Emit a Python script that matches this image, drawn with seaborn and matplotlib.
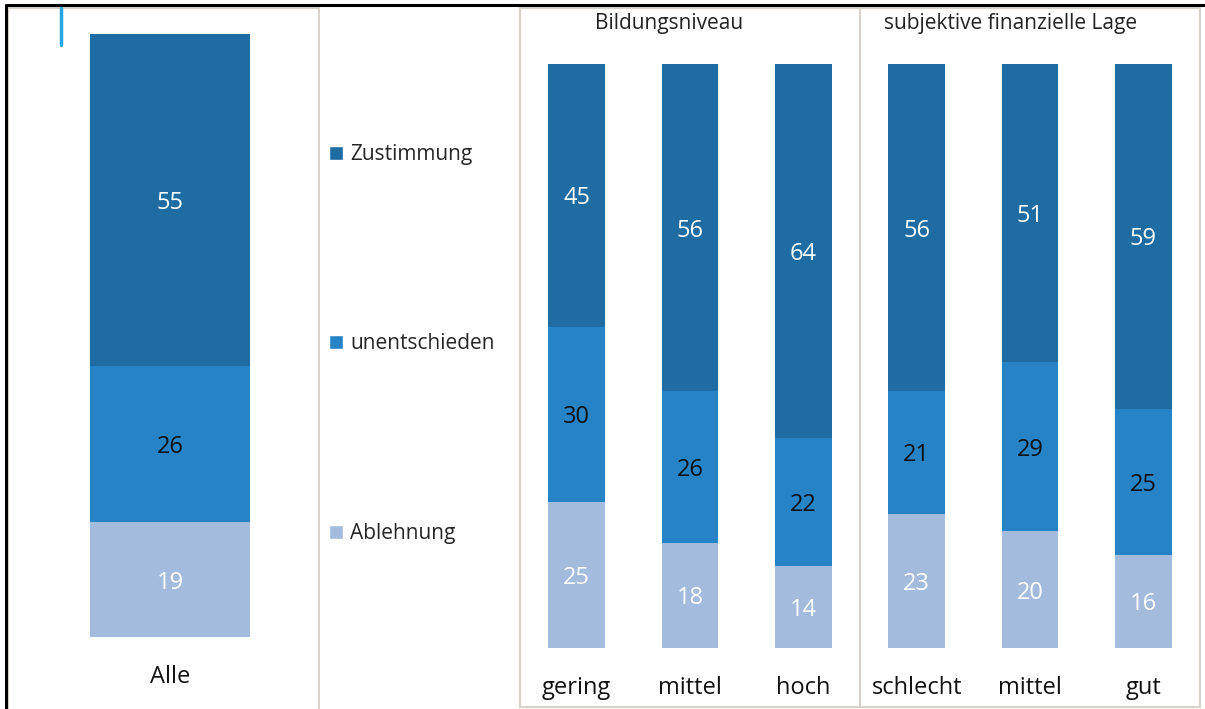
import numpy as np
import pandas as pd
import seaborn as sns
import matplotlib
matplotlib.use("Agg")
import matplotlib.pyplot as plt
from matplotlib.patches import Rectangle, Patch
from matplotlib.lines import Line2D

# Daten
antworten = ["Ablehnung", "unentschieden", "Zustimmung"]
farben = ["#a3bbdc", "#2683c6", "#1f6ca3"]
textfarben = ["white", "#111111", "white"]

alle_gruppe = ["Alle"]
alle_ablehnung = [19]
alle_unentschieden = [26]
alle_zustimmung = [55]

gruppen = ["gering", "mittel", "hoch", "schlecht", "mittel", "gut"]
ablehnung = [25, 18, 14, 23, 20, 16]
unentschieden = [30, 26, 22, 21, 29, 25]
zustimmung = [45, 56, 64, 56, 51, 59]
titel = ["Bildungsniveau", "subjektive finanzielle Lage"]

sns.set_style("white")
plt.rcParams["font.family"] = ["Open Sans", "DejaVu Sans"]

W, H = 1205, 709
fig = plt.figure(figsize=(W / 100, H / 100), dpi=100)


def fx(px):
    return px / W


def fy(py):
    return 1 - py / H


def stapel(ax, namen, schichten, breite):
    keys = ["k%d" % i for i in range(len(namen))]
    df = pd.DataFrame({"key": keys})
    for name, werte in zip(antworten, schichten):
        df[name] = werte
    # kumulierte Summen, von oben nach unten zeichnen
    kum = df[antworten].cumsum(axis=1)
    for i in reversed(range(len(antworten))):
        sns.barplot(x=df["key"], y=kum[antworten[i]], order=keys, color=farben[i],
                    saturation=1, width=breite, edgecolor="none", linewidth=0, ax=ax)
    unten = kum.shift(1, axis=1).fillna(0)
    for i, name in enumerate(antworten):
        for j in range(len(keys)):
            ax.text(j, unten[name][j] + df[name][j] / 2, str(df[name][j]),
                    ha="center", va="center_baseline", fontsize=17, color=textfarben[i])
    ax.set_ylim(0, 100)
    ax.set_xticks(range(len(namen)))
    ax.set_xticklabels(namen, fontsize=17, color="#111111")
    ax.tick_params(axis="x", length=0, pad=20)
    ax.set_yticks([])
    ax.set_xlabel("")
    ax.set_ylabel("")
    ax.set_facecolor("none")
    sns.despine(ax=ax, left=True, bottom=True)


# linkes Feld: Alle
ax_l = fig.add_axes([fx(8), fy(637), fx(319) - fx(8), (637 - 34) / H])
stapel(ax_l, alle_gruppe, [alle_ablehnung, alle_unentschieden, alle_zustimmung], 160 / 311)
ax_l.set_xlim((8 - 170) / 311, (319 - 170) / 311)

# rechtes Feld: Gruppen
ax_r = fig.add_axes([fx(520), fy(648), 680 / W, 584 / H])
stapel(ax_r, gruppen, [ablehnung, unentschieden, zustimmung], 57 / 113.4)
ax_r.set_xlim(-0.5, 5.5)

# Titel der Gruppen
fig.text(fx(669), fy(24), titel[0], ha="center", va="center", fontsize=15, color="#222222")
fig.text(fx(1011), fy(24), titel[1], ha="center", va="center", fontsize=15, color="#222222")

# Rahmen
grau = "#d8d3ca"
fig.add_artist(Rectangle((fx(8), -0.01), fx(319) - fx(8), fy(8) + 0.01, fill=False,
                         edgecolor=grau, lw=1.5, transform=fig.transFigure))
fig.add_artist(Rectangle((fx(520), fy(707)), fx(1200) - fx(520), fy(8) - fy(707), fill=False,
                         edgecolor=grau, lw=1.5, transform=fig.transFigure))
fig.add_artist(Line2D([fx(860), fx(860)], [fy(8), fy(707)], color=grau, lw=1.5,
                      transform=fig.transFigure))
fig.add_artist(Line2D([fx(6), 1], [fy(5), fy(5)], color="black", lw=2.2,
                      transform=fig.transFigure))
fig.add_artist(Line2D([fx(6), fx(6)], [0, fy(5)], color="black", lw=2.2,
                      transform=fig.transFigure))
fig.add_artist(Line2D([fx(61), fx(61)], [fy(8), fy(45)], color="#29a6e0", lw=2.5,
                      transform=fig.transFigure))

# Legende
griffe = [Patch(facecolor=farben[i], label=antworten[i]) for i in reversed(range(3))]
fig.legend(handles=griffe, loc="center left", bbox_to_anchor=(fx(321), fy(344)),
           frameon=False, fontsize=15, labelspacing=8.09, handlelength=0.65,
           handleheight=0.65, handletextpad=0.35, borderaxespad=0)

fig.savefig("out.png", dpi=100)
